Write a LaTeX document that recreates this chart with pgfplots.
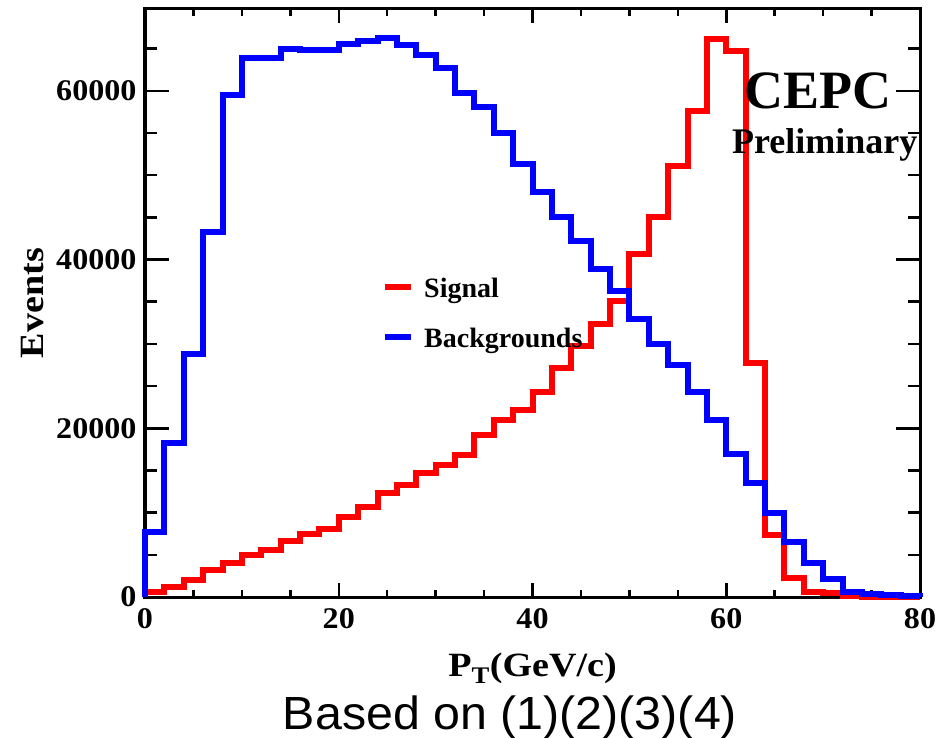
\documentclass[border=0pt]{standalone}
\usepackage{pgfplots}
\pgfplotsset{compat=1.18}
\usepackage{fontspec}
\setmainfont{Liberation Serif}
\newfontfamily\tickf[FakeStretch=1.07]{Liberation Serif}
\newfontfamily\titf[FakeStretch=1.12]{Liberation Serif}
\newfontfamily\sansf[FakeStretch=1.04]{Liberation Sans}
\begin{document}
\begin{tikzpicture}
\begin{axis}[
  at={(145pt,140pt)}, anchor=south west,
  scale only axis, width=775pt, height=588pt,
  xmin=0, xmax=80, ymin=0, ymax=69700,
  clip=false,
  xtick={0,20,40,60,80},
  minor xtick={5,10,15,25,30,35,45,50,55,65,70,75},
  ytick={0,20000,40000,60000},
  minor ytick={5000,10000,15000,25000,30000,35000,45000,50000,55000,65000},
  tick align=inside,
  axis line style={line width=3pt},
  tick style={line width=2.5pt, black},
  major tick length=24pt, minor tick length=12pt,
  xtick style={/pgfplots/major tick length=14pt, /pgfplots/minor tick length=7pt},
  ticklabel style={font=\tickf\bfseries\fontsize{30}{30}\selectfont},
  /pgf/number format/assume math mode=true,
  /pgf/number format/1000 sep={},
  scaled y ticks=false,
  yticklabel style={xshift=-5pt},
  xticklabel style={yshift=-8pt},
  xlabel={P\textsubscript{T}(GeV/c)},
  ylabel={Events},
  xlabel style={font=\titf\bfseries\fontsize{34}{34}\selectfont, at={(axis description cs:0.5,-0.136)}, anchor=base},
  ylabel style={font=\titf\bfseries\fontsize{34}{34}\selectfont, at={(axis description cs:-0.1445,0.5)}, anchor=center},
  legend style={draw=none, fill=none, at={(axis description cs:0.3058,0.5425)}, anchor=north west,
    font=\bfseries\fontsize{28}{28}\selectfont, row sep=29pt, inner sep=0pt,
    nodes={inner sep=0pt},
    /tikz/every odd column/.append style={column sep=10pt}},
  legend cell align=left,
  legend image code/.code={\draw[#1, line width=6pt] (0pt,2pt) -- (26pt,2pt);},
]
\addplot[red, line width=6pt, const plot mark left] coordinates {
(0,0) (0,630) (2,1220) (4,2010) (6,3190) (8,3980) (10,4970) (12,5560) (14,6660) (16,7450) (18,8120)
(20,9500) (22,10680) (24,12270) (26,13250) (28,14700) (30,15620) (32,16800) (34,19170) (36,20940) (38,22120)
(40,24290) (42,27170) (44,29810) (46,32380) (48,35100) (50,40650) (52,45000) (54,51100) (56,57610) (58,66090)
(60,64710) (62,27720) (64,7340) (66,2290) (68,630) (70,440) (72,100) (74,0) (76,0) (78,0) (80,0)
};
\addlegendentry{Signal}
\addplot[blue, line width=6pt, const plot mark left] coordinates {
(0,0) (0,7730) (2,18300) (4,28830) (6,43300) (8,59470) (10,63840) (12,63840) (14,64980) (16,64790) (18,64790)
(20,65500) (22,65890) (24,66210) (26,65380) (28,64240) (30,62700) (32,59700) (34,58090) (36,55050) (38,51300)
(40,47950) (42,45000) (44,42230) (46,38890) (48,36320) (50,32970) (52,30010) (54,27450) (56,24290) (58,21020)
(60,17000) (62,13520) (64,9900) (66,6540) (68,4060) (70,2090) (72,630) (74,300) (76,200) (78,120) (80,120) (80,0)
};
\addlegendentry{Backgrounds}
\node[font=\bfseries\fontsize{54}{54}\selectfont, anchor=base] at (axis description cs:0.8684,0.8316) {CEPC};
\node[font=\bfseries\fontsize{36}{36}\selectfont, anchor=base] at (axis description cs:0.877,0.755) {Preliminary};
\node[font=\sansf\fontsize{46.5}{46.5}\selectfont, anchor=base] at (axis description cs:0.471,-0.2245) {Based on (1)(2)(3)(4)};
\end{axis}
\pgfresetboundingbox
\path (0pt,0pt) rectangle (939pt,737pt);
\end{tikzpicture}
\end{document}
